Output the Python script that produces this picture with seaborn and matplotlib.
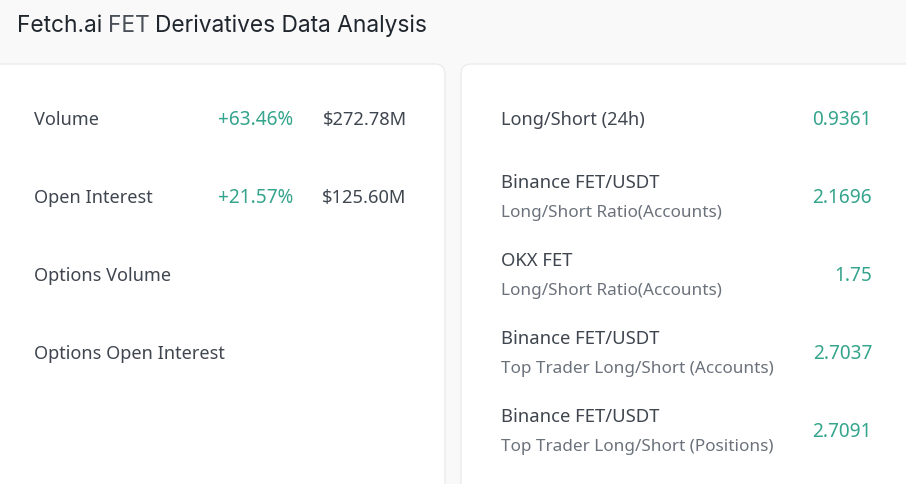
import matplotlib
matplotlib.use('Agg')
import matplotlib.pyplot as plt
from matplotlib.patches import FancyBboxPatch
import seaborn as sns

title_parts = ['Fetch.ai', 'FET', 'Derivatives Data Analysis']

left_labels = ['Volume', 'Open Interest', 'Options Volume', 'Options Open Interest']
left_changes = ['+63.46%', '+21.57%', '', '']
left_amounts = ['$272.78M', '$125.60M', '', '']

right_labels = ['Long/Short (24h)', 'Binance FET/USDT', 'OKX FET', 'Binance FET/USDT', 'Binance FET/USDT']
right_subs = ['', 'Long/Short Ratio(Accounts)', 'Long/Short Ratio(Accounts)',
              'Top Trader Long/Short (Accounts)', 'Top Trader Long/Short (Positions)']
right_values = ['0.9361', '2.1696', '1.75', '2.7037', '2.7091']

GREEN = '#35a48c'
DARK = '#3f464f'
GREY = '#6b727b'
BG = '#f9f9f9'

sns.set_theme(style='white')
plt.rcParams['font.family'] = ['Noto Sans', 'DejaVu Sans']

fig = plt.figure(figsize=(9.06, 4.84), dpi=100, facecolor=BG)
ax = fig.add_axes([0, 0, 1, 1])
ax.set_xlim(0, 906)
ax.set_ylim(484, 0)
ax.set_axis_off()


def card(x0, x1):
    ax.add_patch(FancyBboxPatch((x0, 64), x1 - x0, 460,
                                boxstyle='round,pad=0,rounding_size=10',
                                fc='white', ec='#ececec', lw=1))


card(-30, 445)
card(461, 940)

# title, three pieces because the middle word is lighter
title_size = 16.4
x = 17
for part, col in zip(title_parts, ['#20262d', '#4a5058', '#20262d']):
    t = ax.text(x, 26, part, color=col, fontsize=title_size, family='Inter', va='center')
    box = t.get_window_extent(fig.canvas.get_renderer())
    x = box.x1 + 5.4

size = 13.1
num_size = 13.7
for i, label in enumerate(left_labels):
    y = 120 + i * 78
    ax.text(34, y, label, color=DARK, fontsize=size, va='center')
    ax.text(293, y, left_changes[i], color=GREEN, fontsize=num_size, va='center', ha='right')
    ax.text(406.5, y, left_amounts[i], color=DARK, fontsize=13.15, va='center', ha='right')

for i, label in enumerate(right_labels):
    y = 120 + i * 78
    if right_subs[i]:
        ax.text(501, y - 15, label, color=DARK, fontsize=13.3, va='center')
        ax.text(501, y + 15, right_subs[i], color=GREY, fontsize=12.35, va='center')
    else:
        ax.text(501, y, label, color=DARK, fontsize=size, va='center')
    ax.text(872, y, right_values[i], color=GREEN, fontsize=num_size, va='center', ha='right')

fig.savefig('out.png', dpi=100, facecolor=BG)
